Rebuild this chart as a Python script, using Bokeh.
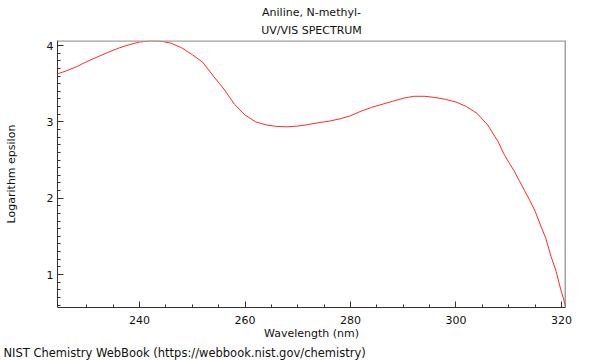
from bokeh.plotting import figure
from bokeh.models import Range1d, Title, Span, FixedTicker
from bokeh.embed import file_html
from bokeh.resources import INLINE

# Spectrum readings (wavelength in nm, log epsilon)
wavelength = [224.5, 226, 228, 230, 232, 234, 236, 238, 240, 242, 244, 246, 248,
              250, 252, 254, 256, 258, 260, 262, 264, 266, 268, 270, 272, 274,
              276, 278, 280, 282, 284, 286, 288, 290, 292, 294, 296, 298, 300,
              302, 304, 306, 308, 309, 310, 311, 312, 313, 314, 315, 316, 317,
              318, 319, 319.5, 320, 320.4, 320.8]
log_epsilon = [3.63, 3.665, 3.72, 3.79, 3.85, 3.91, 3.965, 4.01, 4.045, 4.062,
               4.058, 4.03, 3.97, 3.88, 3.78, 3.60, 3.43, 3.23, 3.09, 3.00, 2.96,
               2.94, 2.935, 2.945, 2.965, 2.99, 3.01, 3.04, 3.08, 3.14, 3.19,
               3.23, 3.27, 3.31, 3.335, 3.335, 3.32, 3.295, 3.26, 3.20, 3.11,
               2.96, 2.74, 2.59, 2.47, 2.36, 2.23, 2.10, 1.97, 1.83, 1.65, 1.48,
               1.24, 1.04, 0.90, 0.77, 0.68, 0.57]

x_major = [240, 260, 280, 300, 320]
x_minor = [230, 235, 245, 250, 255, 265, 270, 275, 285, 290, 295, 305, 310, 315]
y_major = [1, 2, 3, 4]
y_minor = [0.6, 0.7, 0.8, 0.9, 1.1, 1.2, 1.3, 1.4, 1.5, 1.6, 1.7, 1.8, 1.9,
           2.1, 2.2, 2.3, 2.4, 2.5, 2.6, 2.7, 2.8, 2.9, 3.1, 3.2, 3.3, 3.4,
           3.5, 3.6, 3.7, 3.8, 3.9]

title_1 = "Aniline, N-methyl-"
title_2 = "UV/VIS SPECTRUM"
x_label = "Wavelength (nm)"
y_label = "Logarithm epsilon"
footer = "NIST Chemistry WebBook (https://webbook.nist.gov/chemistry)"

FONT = "DejaVu Sans"
FS = "11px"
TXT = "#111111"

p = figure(width=600, height=360, output_backend="svg", toolbar_location=None,
           x_range=Range1d(224.45, 320.76), y_range=Range1d(0.568, 4.066),
           min_border_left=57, min_border_right=35, min_border_top=40,
           min_border_bottom=53, title=None)
p.background_fill_color = "white"
p.border_fill_color = "white"
p.outline_line_color = None
p.grid.visible = False

p.line(wavelength, log_epsilon, line_color="#ff2a2a", line_width=1)

# frame borders: right dark, top grey
p.add_layout(Span(location=320.76, dimension="height", line_color="#444444", line_width=1.5))
p.add_layout(Span(location=4.066, dimension="width", line_color="#a0a0a0", line_width=2.5))

xa = p.xaxis[0]
xa.ticker = FixedTicker(ticks=x_major, minor_ticks=x_minor)
ya = p.yaxis[0]
ya.ticker = FixedTicker(ticks=y_major, minor_ticks=y_minor)
for ax in (xa, ya):
    ax.axis_line_color = "#333333"
    ax.major_tick_line_color = "#333333"
    ax.minor_tick_line_color = "#333333"
    ax.major_tick_in = 6
    ax.major_tick_out = 0
    ax.minor_tick_in = 3
    ax.minor_tick_out = 0
    ax.major_label_text_font = FONT
    ax.major_label_text_font_size = FS
    ax.major_label_text_color = TXT
    ax.axis_label_text_font = FONT
    ax.axis_label_text_font_size = FS
    ax.axis_label_text_font_style = "normal"
    ax.axis_label_text_color = TXT

xa.axis_label = x_label
xa.major_label_standoff = 8
xa.axis_label_standoff = 0
ya.axis_label = y_label
ya.major_label_standoff = 4
ya.axis_label_standoff = 26

p.add_layout(Title(text=title_2, align="center", text_font=FONT, text_font_size=FS,
                   text_font_style="normal", text_color=TXT, standoff=8), "above")
p.add_layout(Title(text=title_1, align="center", text_font=FONT, text_font_size=FS,
                   text_font_style="normal", text_color=TXT, standoff=-2), "above")
p.add_layout(Title(text=footer, align="left", text_font=FONT, text_font_size="11.5px",
                   text_font_style="normal", text_color=TXT, standoff=2, offset=-54), "below")

open("out.html", "w").write(file_html(p, INLINE))
